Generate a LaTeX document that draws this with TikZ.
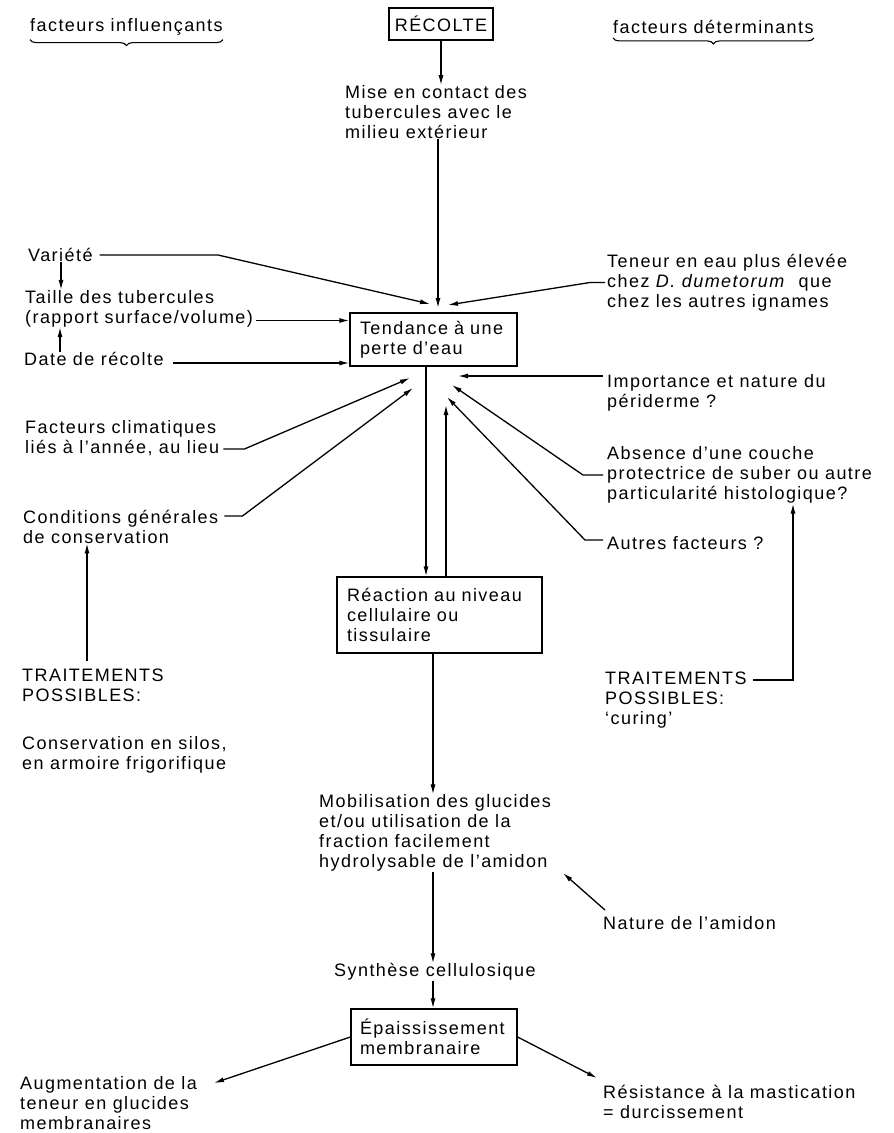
\documentclass[tikz,border=0pt]{standalone}
\usepackage{fontspec}
\setmainfont{Liberation Sans}[LetterSpace=8]
\usetikzlibrary{arrows.meta,decorations.pathreplacing}

\begin{document}
\begin{tikzpicture}[x=1pt, y=-1pt,
    >={Latex[length=10pt,width=5pt]},
    font=\fontsize{18}{20}\selectfont,
    box/.style={draw, line width=1.3pt, inner xsep=10pt, inner ysep=4pt, align=left},
    txt/.style={inner sep=0pt, anchor=west, align=left},
    edge/.style={->, line width=1.3pt},
    brc/.style={decorate, decoration={brace, mirror, amplitude=6pt}, line width=1.1pt}]

  \useasboundingbox (0,0) rectangle (894,1133);

  % en-tetes
  \node[txt] (hinf) at (30,27) {facteurs influençants};
  \node[txt] (hdet) at (613,27) {facteurs déterminants};
  \draw[brc] ([yshift=-4pt]hinf.south west) -- ([yshift=-4pt]hinf.south east);
  \draw[brc] ([yshift=-4pt]hdet.south west) -- ([yshift=-4pt]hdet.south east);

  % colonne centrale
  \node[box, minimum width=104pt, minimum height=32pt, inner xsep=0pt, align=center] (rec) at (441,24) {RÉCOLTE};
  \node[txt] (mise) at (345,112) {Mise en contact des\\tubercules avec le\\milieu extérieur};
  \node[box, text width=147pt, minimum height=53pt] (tend) at (433.5,339.5) {Tendance à une\\perte d’eau};
  \node[box, text width=185pt, minimum height=76pt] (reac) at (439.5,615) {Réaction au niveau\\cellulaire ou\\tissulaire};
  \node[txt] (mob) at (319,833) {Mobilisation des glucides\\et/ou utilisation de la\\fraction facilement\\hydrolysable de l’amidon};
  \node[txt] (synth) at (334,972) {Synthèse cellulosique};
  \node[box, text width=148pt, inner xsep=9pt, minimum height=56pt] (epai) at (434,1037) {Épaississement\\membranaire};

  % facteurs influençants
  \node[txt] (var) at (28,255) {Variété};
  \node[txt] (taille) at (25,308.5) {Taille des tubercules\\(rapport surface/volume)};
  \node[txt] (date) at (24,359) {Date de récolte};
  \node[txt] (clim) at (25,438.5) {Facteurs climatiques\\liés à l’année, au lieu};
  \node[txt] (cond) at (23,526.5) {Conditions générales\\de conservation};
  \node[txt] (trt1) at (22,685) {TRAITEMENTS\\POSSIBLES:};
  \node[txt] (cons) at (22,755) {Conservation en silos,\\en armoire frigorifique};

  % facteurs déterminants
  \node[txt] (ten) at (607,282.5) {Teneur en eau plus élevée\\chez \textit{D. dumetorum}\ \ que\\chez les autres ignames};
  \node[txt] (imp) at (607,392.5) {Importance et nature du\\périderme ?};
  \node[txt] (abs) at (607,475) {Absence d’une couche\\protectrice de suber ou autre\\particularité histologique?};
  \node[txt] (autr) at (607,543) {Autres facteurs ?};
  \node[txt] (trt2) at (605,700) {TRAITEMENTS\\POSSIBLES:\\‘curing’};

  % bas
  \node[txt] (nat) at (603,923) {Nature de l’amidon};
  \node[txt] (aug) at (20,1103) {Augmentation de la\\teneur en glucides\\membranaires};
  \node[txt] (res) at (603,1102) {Résistance à la mastication\\= durcissement};

  % pointes libres
  \coordinate (tvar) at (430,304);
  \coordinate (tmise) at (438,308);
  \coordinate (tten) at (448,305);
  \coordinate (timp) at (458,376);
  \coordinate (tclim) at (410,378);
  \coordinate (tcond) at (413,388);
  \coordinate (tabs) at (452,385);
  \coordinate (taut) at (447,397);
  \coordinate (tup) at (446,405);
  \coordinate (tnat) at (563,873);
  \coordinate (taug) at (214,1083);
  \coordinate (tres) at (597,1078);
  \coordinate (strt) at (87,661);

  \draw[edge] (rec.south) -- (rec.south |- mise.north);
  \draw[edge] (mise.south -| tmise) -- (tmise);
  \draw[edge] ([xshift=7pt]var.east) -- (218,255) -- (tvar);
  \draw[edge] (var.south -| 61,0) -- (taille.north -| 61,0);
  \draw[edge] (date.north -| 60,0) -- (taille.south -| 60,0);
  \draw[edge] ([xshift=3pt,yshift=-12pt]taille.east) -- (tend.west |- 0,320.5);
  \draw[edge] ([xshift=9pt,yshift=-4pt]date.east) -- (tend.west |- 0,363);
  \draw[edge] ([xshift=4pt,yshift=-10.5pt]clim.east) -- ++(21,0) -- (tclim);
  \draw[edge] ([xshift=6pt,yshift=10.5pt]cond.east) -- ++(18,0) -- (tcond);
  \draw[edge] (strt) -- (cond.south -| strt);
  \draw[edge] ([xshift=-2pt]ten.west) -- ++(-15,0) -- (tten);
  \draw[edge] ([xshift=-4pt,yshift=16.5pt]imp.west) -- (timp);
  \draw[edge] ([xshift=-4pt]abs.west) -- ++(-20,0) -- (tabs);
  \draw[edge] ([xshift=-4pt,yshift=3pt]autr.west) -- ++(-18,0) -- (taut);
  \draw[edge] ([xshift=6pt,yshift=20pt]trt2.east) -| (abs.south -| 793,0);

  \draw[edge] (tend.south -| 426,0) -- (reac.north -| 426,0);
  \draw[edge] (reac.north -| tup) -- (tup);
  \draw[edge] (reac.south -| 433,0) -- (mob.north -| 433,0);
  \draw[edge] (mob.south -| 433,0) -- (synth.north -| 433,0);
  \draw[edge] (synth.south -| 433,0) -- (epai.north -| 433,0);
  \draw[edge] ([xshift=2pt,yshift=13pt]nat.west) -- (tnat);
  \draw[edge] (epai.west) -- (taug);
  \draw[edge] (epai.east) -- (tres);
\end{tikzpicture}
\end{document}
